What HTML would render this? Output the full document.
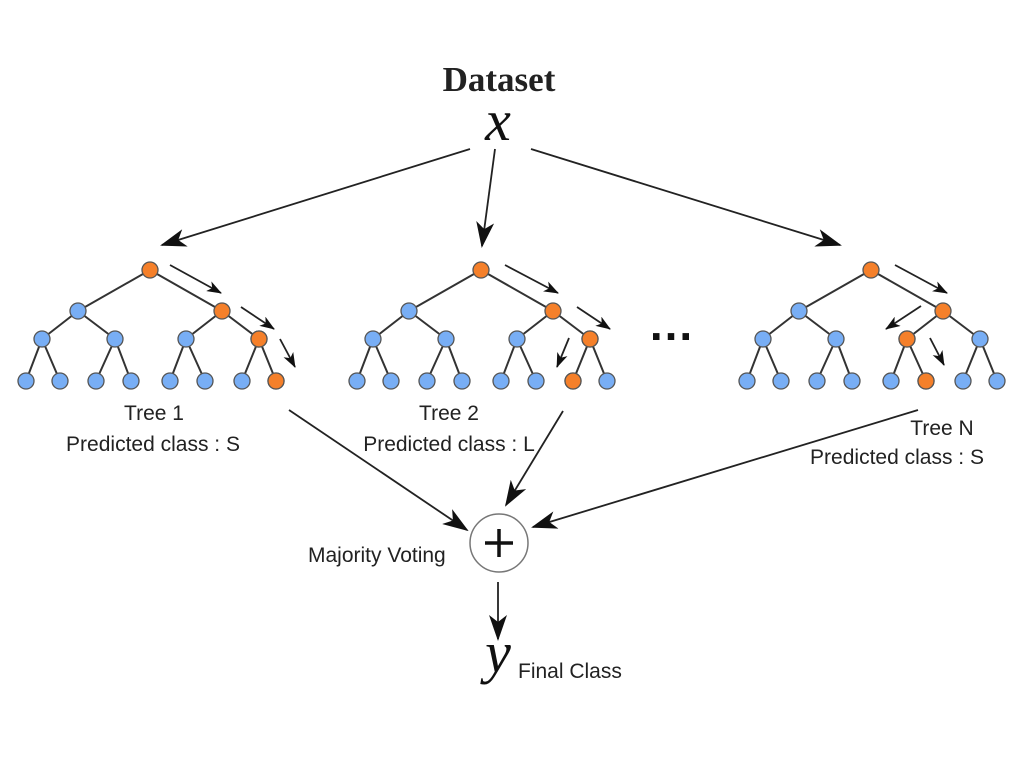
<!DOCTYPE html>
<html><head><meta charset="utf-8"><style>body{margin:0;background:#fff}svg{display:block}</style></head>
<body>
<svg width="1024" height="768" viewBox="0 0 1024 768" xmlns="http://www.w3.org/2000/svg">
<defs>
<marker id="big" markerUnits="userSpaceOnUse" markerWidth="26" markerHeight="18" refX="24" refY="9" orient="auto" viewBox="0 0 26 18"><path d="M0,0 L26,9 L0,18 L7,9 z" fill="#111"/></marker>
<marker id="sm" markerUnits="userSpaceOnUse" markerWidth="15" markerHeight="11" refX="14" refY="5.5" orient="auto" viewBox="0 0 15 11"><path d="M0,0 L15,5.5 L0,11 L4,5.5 z" fill="#111"/></marker>
<g id="tree">
 <g stroke="#333" stroke-width="2" fill="none">
  <path d="M0,270 L-72,311 M0,270 L72,311 M-72,311 L-108,339 M-72,311 L-35,339 M72,311 L36,339 M72,311 L109,339
  M-108,339 L-124,381 M-108,339 L-90,381 M-35,339 L-54,381 M-35,339 L-19,381 M36,339 L20,381 M36,339 L55,381 M109,339 L92,381 M109,339 L126,381"/>
 </g>
 <g fill="#78aef5" stroke="#555" stroke-width="1.3">
  <circle cx="-72" cy="311" r="8"/><circle cx="-108" cy="339" r="8"/><circle cx="-35" cy="339" r="8"/><circle cx="36" cy="339" r="8"/><circle cx="109" cy="339" r="8"/>
  <circle cx="-124" cy="381" r="8"/><circle cx="-90" cy="381" r="8"/><circle cx="-54" cy="381" r="8"/><circle cx="-19" cy="381" r="8"/><circle cx="20" cy="381" r="8"/><circle cx="55" cy="381" r="8"/><circle cx="92" cy="381" r="8"/><circle cx="126" cy="381" r="8"/>
 </g>
</g>
</defs>
<g transform="translate(150,0)"><use href="#tree"/>
 <g fill="#f5802a" stroke="#555" stroke-width="1.3"><circle cx="0" cy="270" r="8"/><circle cx="72" cy="311" r="8"/><circle cx="109" cy="339" r="8"/><circle cx="126" cy="381" r="8"/></g></g>
<g transform="translate(481,0)"><use href="#tree"/>
 <g fill="#f5802a" stroke="#555" stroke-width="1.3"><circle cx="0" cy="270" r="8"/><circle cx="72" cy="311" r="8"/><circle cx="109" cy="339" r="8"/><circle cx="92" cy="381" r="8"/></g></g>
<g transform="translate(871,0)"><use href="#tree"/>
 <g fill="#f5802a" stroke="#555" stroke-width="1.3"><circle cx="0" cy="270" r="8"/><circle cx="72" cy="311" r="8"/><circle cx="36" cy="339" r="8"/><circle cx="55" cy="381" r="8"/></g></g>

<g stroke="#222" stroke-width="1.8" marker-end="url(#sm)">
 <line x1="170" y1="265" x2="221" y2="293"/><line x1="241" y1="307" x2="274" y2="329"/><line x1="280" y1="339" x2="295" y2="367"/>
 <line x1="505" y1="265" x2="558" y2="293"/><line x1="577" y1="307" x2="610" y2="329"/><line x1="569" y1="338" x2="557" y2="367"/>
 <line x1="895" y1="265" x2="947" y2="293"/><line x1="921" y1="306" x2="886" y2="329"/><line x1="930" y1="338" x2="944" y2="365"/>
</g>
<g stroke="#222" stroke-width="1.8" marker-end="url(#big)">
 <line x1="470" y1="149" x2="162" y2="245"/><line x1="495" y1="149" x2="482" y2="246"/><line x1="531" y1="149" x2="840" y2="245"/>
 <line x1="289" y1="410" x2="467" y2="530"/><line x1="563" y1="411" x2="506" y2="505"/><line x1="918" y1="410" x2="533" y2="527"/>
 <line x1="498" y1="582" x2="498" y2="639"/>
</g>
<circle cx="499" cy="543" r="29" fill="#fff" stroke="#777" stroke-width="1.5"/>
<path d="M485,543 H513 M499,529 V557" stroke="#111" stroke-width="3.5"/>
<g font-family="Liberation Sans, sans-serif" font-size="21" fill="#222">
 <text x="154" y="420" text-anchor="middle">Tree 1</text>
 <text x="153" y="451" text-anchor="middle">Predicted class : S</text>
 <text x="449" y="420" text-anchor="middle">Tree 2</text>
 <text x="449" y="451" text-anchor="middle">Predicted class : L</text>
 <text x="942" y="435" text-anchor="middle">Tree N</text>
 <text x="897" y="464" text-anchor="middle">Predicted class : S</text>
 <text x="308" y="562">Majority Voting</text>
 <text x="518" y="678">Final Class</text>
</g>
<text x="672" y="340" text-anchor="middle" font-family="Liberation Sans, sans-serif" font-size="46" font-weight="bold" fill="#111" letter-spacing="2">...</text>
<text x="499" y="91" text-anchor="middle" font-family="Liberation Serif, serif" font-weight="bold" font-size="35" fill="#222">Dataset</text>
<text x="498" y="140" text-anchor="middle" font-family="Liberation Serif, serif" font-style="italic" font-size="58" fill="#111">x</text>
<text x="498" y="672" text-anchor="middle" font-family="Liberation Serif, serif" font-style="italic" font-size="58" fill="#111">y</text>
</svg>
</body></html>
